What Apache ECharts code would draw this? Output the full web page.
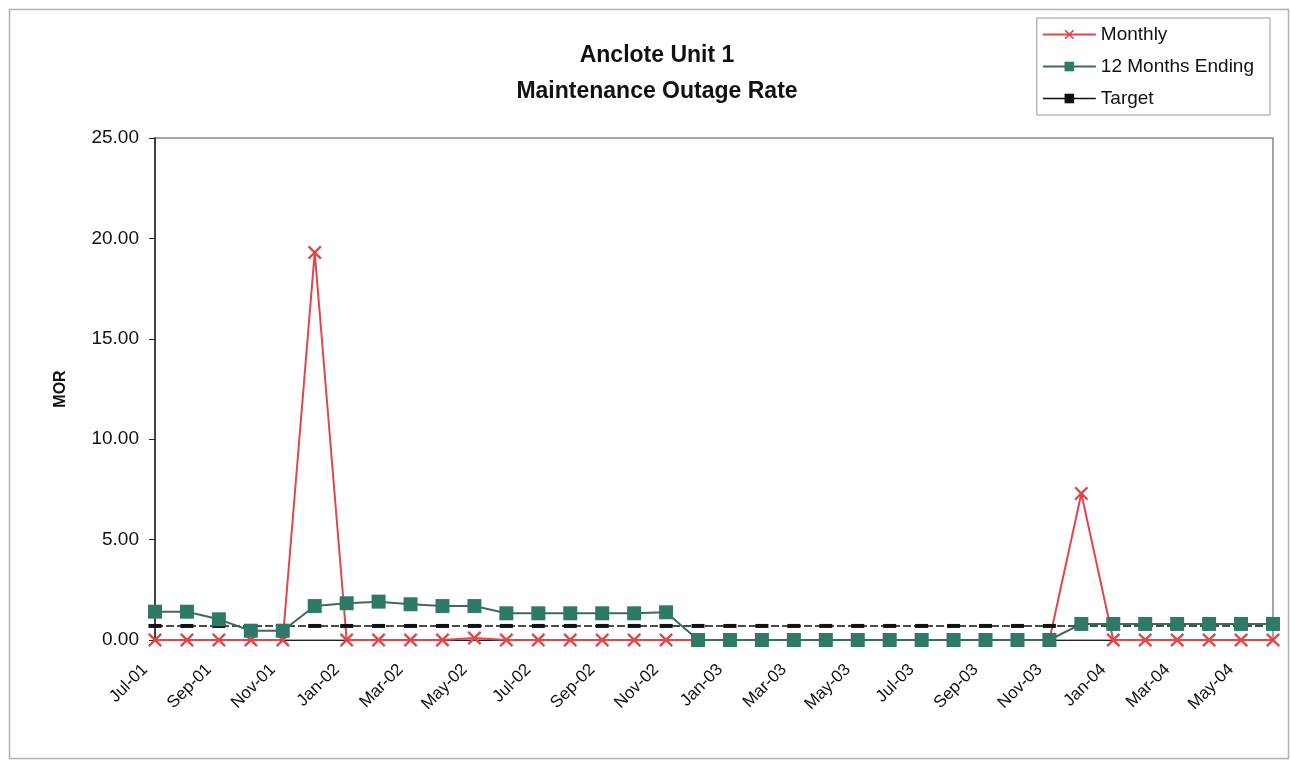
<!DOCTYPE html>
<html>
<head>
<meta charset="utf-8">
<script src="https://cdn.jsdelivr.net/npm/echarts@6/dist/echarts.min.js"></script>
<style>
html,body{margin:0;padding:0;background:#fff;}
#c{width:1291px;height:762px;}
</style>
</head>
<body>
<div id="c"></div>
<script>
const categories = ['Jul-01','Aug-01','Sep-01','Oct-01','Nov-01','Dec-01','Jan-02','Feb-02','Mar-02','Apr-02','May-02','Jun-02',
  'Jul-02','Aug-02','Sep-02','Oct-02','Nov-02','Dec-02','Jan-03','Feb-03','Mar-03','Apr-03','May-03','Jun-03',
  'Jul-03','Aug-03','Sep-03','Oct-03','Nov-03','Dec-03','Jan-04','Feb-04','Mar-04','Apr-04','May-04','Jun-04'];
const monthly = [0,0,0,0,0,19.3,0,0,0,0,0.1,0,
  0,0,0,0,0,0,0,0,0,0,0,0,
  0,0,0,0,0,7.3,0,0,0,0,0,0];
const twelveMonths = [1.41,1.41,1.03,0.46,0.46,1.69,1.83,1.91,1.78,1.69,1.69,1.33,
  1.33,1.33,1.33,1.33,1.38,0,0,0,0,0,0,0,
  0,0,0,0,0,0.8,0.8,0.8,0.8,0.8,0.8,0.8];
const target = [0.7,0.7,0.7,0.7,0.7,0.7,0.7,0.7,0.7,0.7,0.7,0.7,
  0.7,0.7,0.7,0.7,0.7,0.7,0.7,0.7,0.7,0.7,0.7,0.7,
  0.7,0.7,0.7,0.7,0.7,0.7,0.7,0.7,0.7,0.7,0.7,0.7];
const yTicks = {min:0, max:25, interval:5};

const FONT = '"Liberation Sans", Arial, sans-serif';
const X_PATH = 'path://M0,1.2 L1.2,0 L5,3.8 L8.8,0 L10,1.2 L6.2,5 L10,8.8 L8.8,10 L5,6.2 L1.2,10 L0,8.8 L3.8,5 Z';

const chart = echarts.init(document.getElementById('c'));
chart.setOption({
  backgroundColor:'#fff',
  animation:false,
  textStyle:{fontFamily:FONT},
  graphic:[{
    type:'rect', left:7, top:7,
    shape:{width:1279, height:749},
    style:{fill:'none', stroke:'#b0b0b0', lineWidth:1.5}, z:-1
  }],
  title:{
    text:'Anclote Unit 1\nMaintenance Outage Rate',
    left:652, top:33, textAlign:'center',
    textStyle:{fontFamily:FONT, fontSize:23, fontWeight:'bold', color:'#111', lineHeight:36}
  },
  legend:{
    orient:'vertical', right:21, top:18,
    borderColor:'#999', borderWidth:1,
    padding:[7,16,7,5],
    itemWidth:53, itemHeight:12, itemGap:13,
    textStyle:{fontFamily:FONT, fontSize:19, color:'#111'},
    data:[
      {name:'Monthly'},
      {name:'12 Months Ending'},
      {name:'Target', lineStyle:{type:'solid', width:1.5}}
    ]
  },
  grid:{left:155, right:18, top:138, bottom:122, show:true, borderColor:'#888', borderWidth:1.5},
  xAxis:{
    type:'category', data:categories, boundaryGap:false,
    axisLine:{show:true, lineStyle:{color:'#222', width:1}},
    axisTick:{show:false},
    axisLabel:{rotate:45, interval:1, fontSize:17, color:'#111', fontFamily:FONT, margin:17, padding:[0,14,0,0]}
  },
  yAxis:{
    type:'value', min:yTicks.min, max:yTicks.max, interval:yTicks.interval,
    name:'MOR', nameLocation:'middle', nameRotate:90, nameGap:86,
    nameTextStyle:{fontFamily:FONT, fontSize:16, fontWeight:'bold', color:'#111'},
    splitLine:{show:false},
    axisLine:{show:true, lineStyle:{color:'#222', width:1.5}},
    axisTick:{show:true, inside:false, length:6, lineStyle:{color:'#222'}},
    axisLabel:{fontSize:19, color:'#111', fontFamily:FONT, margin:16, formatter:v=>v.toFixed(2)}
  },
  series:[
    {
      name:'Monthly', type:'line', data:monthly,
      symbol:X_PATH, symbolSize:14, showAllSymbol:true,
      lineStyle:{color:'#e0474c', width:2},
      itemStyle:{color:'#e0474c'}, z:2
    },
    {
      name:'Target', type:'line', data:target,
      symbol:'rect', symbolSize:[13,4], showAllSymbol:true,
      lineStyle:{color:'#111', width:1.5, type:[8,3]},
      itemStyle:{color:'#111'}, z:3
    },
    {
      name:'12 Months Ending', type:'line', data:twelveMonths,
      symbol:'rect', symbolSize:14, showAllSymbol:true,
      lineStyle:{color:'#3d6a5c', width:2},
      itemStyle:{color:'#2f7a66'}, z:4
    }
  ]
});
</script>
</body>
</html>
